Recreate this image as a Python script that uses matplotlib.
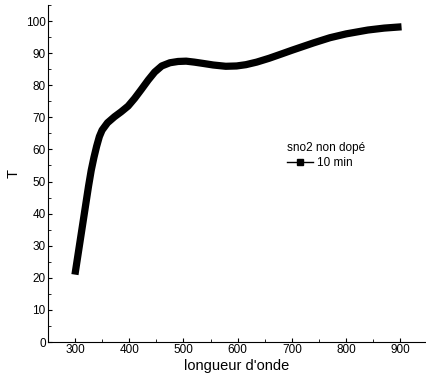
import matplotlib
matplotlib.use('Agg')
import matplotlib.pyplot as plt
from matplotlib.ticker import MultipleLocator

plt.rcParams['font.family'] = ['Liberation Sans', 'DejaVu Sans']

# données
longueur = [300, 305, 310, 315, 320, 325, 330, 335, 340, 345, 350, 360, 373,
            385, 398, 410, 422, 435, 447, 460, 475, 490, 505, 520, 536, 555,
            578, 598, 615, 635, 658, 680, 700, 740, 770, 800, 840, 870, 902]
transmission = [21, 26.5, 32, 37.5, 43, 48.5, 53.5, 57.5, 61, 64, 66, 68.3,
                70.2, 71.7, 73.5, 75.9, 78.6, 81.6, 84.1, 86, 87, 87.4, 87.5,
                87.2, 86.8, 86.3, 85.9, 86, 86.4, 87.2, 88.4, 89.7, 90.9, 93.2,
                94.8, 96.0, 97.2, 97.8, 98.2]
serie_label = '10 min'
legende_titre = 'sno2 non dopé'

fig = plt.figure(figsize=(4.27, 3.83), dpi=100)
ax = fig.add_axes([0.112, 0.107, 0.883, 0.88])

ax.plot(longueur, transmission, color='black', linewidth=5.2,
        solid_capstyle='butt', solid_joinstyle='round')
# entrée de légende (ligne fine + carré)
ax.plot([], [], color='black', linewidth=1, marker='s', markersize=5,
        label=serie_label)

ax.set_xlim(250, 945)
ax.set_ylim(0, 105)
ax.xaxis.set_major_locator(MultipleLocator(100))
ax.xaxis.set_minor_locator(MultipleLocator(50))
ax.yaxis.set_major_locator(MultipleLocator(10))
ax.yaxis.set_minor_locator(MultipleLocator(5))
ax.tick_params(which='both', direction='in', labelsize=8.5, pad=1.5)
ax.tick_params(which='major', length=3)
ax.tick_params(which='minor', length=2)

for s in ['top', 'right']:
    ax.spines[s].set_visible(False)

ax.set_xlabel("longueur d'onde", fontsize=10.5, labelpad=2)
ax.set_ylabel('T', fontsize=10.5, labelpad=4)

leg = ax.legend(title=legende_titre, loc='upper left',
                bbox_to_anchor=(0.62, 0.61), frameon=False, fontsize=8.5,
                title_fontsize=8.5, handlelength=2.2, handletextpad=0.3,
                alignment='left', borderpad=0, labelspacing=0.2)

fig.savefig('out.png', dpi=100)
